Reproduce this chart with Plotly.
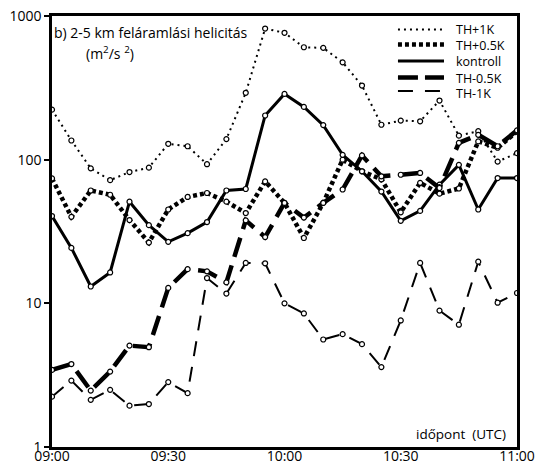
import plotly.graph_objects as go

times = ["09:00", "09:05", "09:10", "09:15", "09:20", "09:25", "09:30", "09:35",
         "09:40", "09:45", "09:50", "09:55", "10:00", "10:05", "10:10", "10:15",
         "10:20", "10:25", "10:30", "10:35", "10:40", "10:45", "10:50", "10:55", "11:00"]

th_p1 = [223, 136, 87, 72, 82, 88, 129, 124, 93, 139, 292, 818, 764, 606, 600, 476,
         328, 175, 187, 185, 258, 147, 158, 97, 111]
th_p05 = [74, 40, 61, 57, 38, 26.5, 45, 55, 58.6, 51, 42.5, 70.6, 50, 28.5, 50, 100,
          83, 73, 43, 69, 58, 63, 134, 121, 157]
kontroll = [40.5, 24.3, 13.1, 16.4, 51, 35, 26.8, 30.8, 36.8, 61, 62.5, 203, 287, 233,
            174, 108, 83, 60, 37.5, 44, 67, 92, 45, 74.5, 74.5]
th_m05 = [3.44, 3.78, 2.47, 3.35, 5.08, 4.95, 12.8, 17.3, 16.7, 14.0, 37.8, 28.9, 50,
          39.5, 50, 62, 107, 76.6, 78.5, 80.8, 63.5, 131, 149, 124, 160]
th_m1 = [2.24, 2.9, 2.13, 2.5, 1.94, 1.99, 2.83, 2.37, 15.0, 11.7, 19.1, 19.0, 10.0,
         8.5, 5.6, 6.1, 5.2, 3.6, 7.6, 19.1, 8.9, 7.1, 19.5, 10.1, 11.8]

series_names = ["TH+1K", "TH+0.5K", "kontroll", "TH-0.5K", "TH-1K"]
x_tick_labels = ["09:00", "09:30", "10:00", "10:30", "11:00"]
y_tick_vals = [1, 10, 100, 1000]

day = "2020-01-01 "
xs = [day + t for t in times]

styles = {
    "TH+1K": dict(width=2, dash="2px,4px"),
    "TH+0.5K": dict(width=4.5, dash="4px,3px"),
    "kontroll": dict(width=3, dash="solid"),
    "TH-0.5K": dict(width=4.5, dash="20px,9px"),
    "TH-1K": dict(width=2, dash="15px,11px"),
}
values = [th_p1, th_p05, kontroll, th_m05, th_m1]

fig = go.Figure()
for name, vals in zip(series_names, values):
    st = styles[name]
    fig.add_trace(go.Scatter(
        x=xs, y=vals, mode="lines+markers", name=name, showlegend=False,
        line=dict(color="black", width=st["width"], dash=st["dash"]),
        marker=dict(symbol="circle", size=5, color="white",
                    line=dict(color="black", width=1.2)),
    ))

# manual legend (paper coordinates; plot area spans 431 px vertically)
leg_x0, leg_x1, txt_x = 0.744, 0.843, 0.866
leg_px = [29.5, 44.5, 61, 77.5, 91]
txt_px = [30, 45.5, 61.5, 78.5, 93.5]
for name, lp, tp in zip(series_names, leg_px, txt_px):
    st = styles[name]
    dash = st["dash"]
    if name == "TH-0.5K":
        dash = "20px,7px"
    if name == "TH-1K":
        dash = "15px,12px"
    ly = (447 - lp) / 431
    ty = (447 - tp) / 431
    fig.add_shape(type="line", xref="paper", yref="paper",
                  x0=leg_x0, x1=leg_x1, y0=ly, y1=ly,
                  line=dict(color="black", width=st["width"], dash=dash))
    fig.add_annotation(xref="paper", yref="paper", x=txt_x, y=ty, text=name,
                       showarrow=False, xanchor="left", yanchor="middle",
                       borderpad=0,
                       font=dict(size=12.5, color="black", family="Open Sans"))

fig.add_annotation(xref="paper", yref="paper", x=0.002, y=0.961,
                   text="b) 2-5 km feláramlási helicitás", showarrow=False,
                   xanchor="left", yanchor="middle", borderpad=0,
                   font=dict(size=14, color="black", family="Open Sans"))
fig.add_annotation(xref="paper", yref="paper", x=0.071, y=0.914,
                   text="(m<sup>2</sup>/s <sup>2</sup>)", showarrow=False,
                   xanchor="left", yanchor="middle", borderpad=0,
                   font=dict(size=14, color="black", family="Open Sans"))
fig.add_annotation(xref="paper", yref="paper", x=0.978, y=0.030,
                   text="időpont  (UTC)", showarrow=False,
                   xanchor="right", yanchor="middle", borderpad=0,
                   font=dict(size=13.5, color="black", family="Open Sans"))

fig.update_xaxes(
    type="date", range=[day + "09:00", day + "11:00"],
    tickvals=[day + t for t in x_tick_labels], ticktext=x_tick_labels,
    showgrid=False, zeroline=False, showline=True, mirror=True,
    linecolor="black", linewidth=2.5, ticks="", automargin=False,
    ticklabelstandoff=-6,
    tickfont=dict(size=14, color="black", family="Open Sans"),
)
fig.update_yaxes(
    type="log", range=[0, 3], tickvals=y_tick_vals,
    ticktext=[str(v) for v in y_tick_vals],
    showgrid=False, zeroline=False, showline=True, mirror=True,
    linecolor="black", linewidth=2.5, ticks="outside", ticklen=5,
    tickwidth=1.5, tickcolor="black", automargin=False,
    tickfont=dict(size=14, color="black", family="Open Sans"),
)
fig.update_layout(
    width=539, height=461, margin=dict(l=52, r=22, t=16, b=14),
    paper_bgcolor="white", plot_bgcolor="white", showlegend=False,
)
fig.write_html("out.html")
